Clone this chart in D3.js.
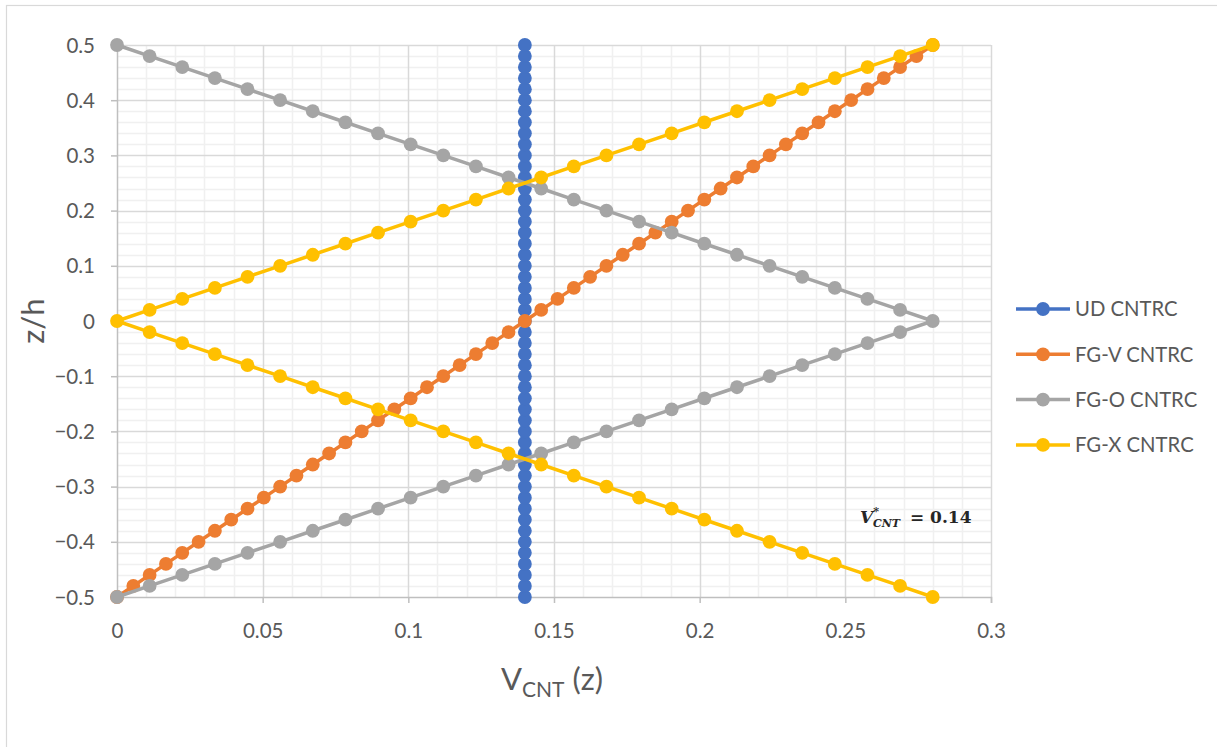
<!DOCTYPE html>
<html>
<head>
<meta charset="utf-8">
<script src="https://cdn.jsdelivr.net/npm/d3@7"></script>
<style>
  html, body { margin: 0; padding: 0; background: #fff; }
  svg { display: block; }
  .tick text { font-family: Lato, "Open Sans", sans-serif; }
</style>
</head>
<body>
<svg id="chart" width="1217" height="747"></svg>
<script>
// Through-thickness position z/h (shared by every series)
const zh = [-0.5, -0.48, -0.46, -0.44, -0.42, -0.4, -0.38, -0.36, -0.34, -0.32,
  -0.3, -0.28, -0.26, -0.24, -0.22, -0.2, -0.18, -0.16, -0.14, -0.12,
  -0.1, -0.08, -0.06, -0.04, -0.02, 0, 0.02, 0.04, 0.06, 0.08,
  0.1, 0.12, 0.14, 0.16, 0.18, 0.2, 0.22, 0.24, 0.26, 0.28,
  0.3, 0.32, 0.34, 0.36, 0.38, 0.4, 0.42, 0.44, 0.46, 0.48, 0.5];

// CNT volume fraction V_CNT(z) for each distribution
const udValues = [0.14, 0.14, 0.14, 0.14, 0.14, 0.14, 0.14, 0.14, 0.14, 0.14,
  0.14, 0.14, 0.14, 0.14, 0.14, 0.14, 0.14, 0.14, 0.14, 0.14,
  0.14, 0.14, 0.14, 0.14, 0.14, 0.14, 0.14, 0.14, 0.14, 0.14,
  0.14, 0.14, 0.14, 0.14, 0.14, 0.14, 0.14, 0.14, 0.14, 0.14,
  0.14, 0.14, 0.14, 0.14, 0.14, 0.14, 0.14, 0.14, 0.14, 0.14, 0.14];

const fgvValues = [0, 0.0056, 0.0112, 0.0168, 0.0224, 0.028, 0.0336, 0.0392, 0.0448, 0.0504,
  0.056, 0.0616, 0.0672, 0.0728, 0.0784, 0.084, 0.0896, 0.0952, 0.1008, 0.1064,
  0.112, 0.1176, 0.1232, 0.1288, 0.1344, 0.14, 0.1456, 0.1512, 0.1568, 0.1624,
  0.168, 0.1736, 0.1792, 0.1848, 0.1904, 0.196, 0.2016, 0.2072, 0.2128, 0.2184,
  0.224, 0.2296, 0.2352, 0.2408, 0.2464, 0.252, 0.2576, 0.2632, 0.2688, 0.2744, 0.28];

const fgoValues = [0, 0.0112, 0.0224, 0.0336, 0.0448, 0.056, 0.0672, 0.0784, 0.0896, 0.1008,
  0.112, 0.1232, 0.1344, 0.1456, 0.1568, 0.168, 0.1792, 0.1904, 0.2016, 0.2128,
  0.224, 0.2352, 0.2464, 0.2576, 0.2688, 0.28, 0.2688, 0.2576, 0.2464, 0.2352,
  0.224, 0.2128, 0.2016, 0.1904, 0.1792, 0.168, 0.1568, 0.1456, 0.1344, 0.1232,
  0.112, 0.1008, 0.0896, 0.0784, 0.0672, 0.056, 0.0448, 0.0336, 0.0224, 0.0112, 0];

const fgxValues = [0.28, 0.2688, 0.2576, 0.2464, 0.2352, 0.224, 0.2128, 0.2016, 0.1904, 0.1792,
  0.168, 0.1568, 0.1456, 0.1344, 0.1232, 0.112, 0.1008, 0.0896, 0.0784, 0.0672,
  0.056, 0.0448, 0.0336, 0.0224, 0.0112, 0, 0.0112, 0.0224, 0.0336, 0.0448,
  0.056, 0.0672, 0.0784, 0.0896, 0.1008, 0.112, 0.1232, 0.1344, 0.1456, 0.1568,
  0.168, 0.1792, 0.1904, 0.2016, 0.2128, 0.224, 0.2352, 0.2464, 0.2576, 0.2688, 0.28];

const seriesNames = ["UD CNTRC", "FG-V CNTRC", "FG-O CNTRC", "FG-X CNTRC"];
const seriesColors = ["#4472C4", "#ED7D31", "#A5A5A5", "#FFC000"];
const seriesValues = [udValues, fgvValues, fgoValues, fgxValues];

const xTicks = [0, 0.05, 0.1, 0.15, 0.2, 0.25, 0.3];
const yTicks = [-0.5, -0.4, -0.3, -0.2, -0.1, 0, 0.1, 0.2, 0.3, 0.4, 0.5];
const annotationValue = 0.14;

const svg = d3.select("#chart");
const W = 1217, H = 747;
const m = { left: 117, right: 226, top: 45, bottom: 150 };
const font = "Lato, 'Open Sans', sans-serif";

// outer chart frame (runs past the right and bottom edges)
svg.append("rect")
  .attr("x", 6.5).attr("y", 5.5)
  .attr("width", W + 10).attr("height", H + 10)
  .attr("fill", "#fff").attr("stroke", "#d9d9d9").attr("stroke-width", 1.2);

const x = d3.scaleLinear().domain([0, 0.3]).range([m.left, W - m.right]);
const y = d3.scaleLinear().domain([-0.5, 0.5]).range([H - m.bottom, m.top]);

const [x0, x1] = x.range();
const [y0, y1] = y.range();

// minor grid
const grid = svg.append("g");
grid.selectAll("line.vminor")
  .data(d3.range(1, 30).filter(i => i % 5 !== 0).map(i => i / 100))
  .join("line")
  .attr("x1", d => Math.round(x(d)) + 0.5).attr("x2", d => Math.round(x(d)) + 0.5)
  .attr("y1", y1).attr("y2", y0)
  .attr("stroke", "#f0f0f0").attr("stroke-width", 1.5);
grid.selectAll("line.hminor")
  .data(d3.range(-24, 25).filter(i => i % 5 !== 0).map(i => i / 50))
  .join("line")
  .attr("x1", x0).attr("x2", x1)
  .attr("y1", d => Math.round(y(d)) + 0.5).attr("y2", d => Math.round(y(d)) + 0.5)
  .attr("stroke", "#f0f0f0").attr("stroke-width", 1.5);
// major grid
grid.selectAll("line.vmajor")
  .data(xTicks.slice(1))
  .join("line")
  .attr("x1", d => Math.round(x(d)) + 0.5).attr("x2", d => Math.round(x(d)) + 0.5)
  .attr("y1", y1).attr("y2", y0)
  .attr("stroke", "#d9d9d9").attr("stroke-width", 1.5);
grid.selectAll("line.hmajor")
  .data(yTicks.slice(1))
  .join("line")
  .attr("x1", x0).attr("x2", x1)
  .attr("y1", d => Math.round(y(d)) + 0.5).attr("y2", d => Math.round(y(d)) + 0.5)
  .attr("stroke", "#d9d9d9").attr("stroke-width", 1.5);

// axes
const xAxis = d3.axisBottom(x).tickValues(xTicks).tickFormat(d3.format("~g")).tickSize(6).tickPadding(20);
const yAxis = d3.axisLeft(y).tickValues(yTicks).tickFormat(d3.format("~g")).tickSize(6).tickPadding(16);

const gx = svg.append("g").attr("transform", `translate(0,${y0})`).call(xAxis);
const gy = svg.append("g").attr("transform", `translate(${x0},0)`).call(yAxis);
[gx, gy].forEach(g => {
  g.select(".domain").attr("stroke", "#bfbfbf").attr("stroke-width", 1.5);
  g.selectAll(".tick line").attr("stroke", "#bfbfbf").attr("stroke-width", 1.5);
  g.selectAll(".tick text").attr("fill", "#595959").attr("font-size", 20.5);
});
gy.selectAll(".tick text").attr("dy", "0.35em");

// series: lines then markers, in legend order
const line = d3.line().x(d => x(d[0])).y(d => y(d[1]));
seriesValues.forEach((vals, i) => {
  const pts = vals.map((v, k) => [v, zh[k]]);
  const g = svg.append("g");
  g.append("path").datum(pts)
    .attr("d", line)
    .attr("fill", "none")
    .attr("stroke", seriesColors[i])
    .attr("stroke-width", 3.5)
    .attr("stroke-linejoin", "round");
  g.selectAll("circle").data(pts).join("circle")
    .attr("cx", d => x(d[0])).attr("cy", d => y(d[1]))
    .attr("r", 6.9)
    .attr("fill", seriesColors[i]);
});

// axis titles
svg.append("text")
  .attr("x", (x0 + x1) / 2 - 2).attr("y", 690)
  .attr("text-anchor", "middle")
  .attr("font-family", font)
  .attr("font-size", 31).attr("fill", "#595959")
  .call(t => {
    t.append("tspan").text("V");
    t.append("tspan").attr("font-size", 21).attr("dy", 7).text("CNT");
    t.append("tspan").attr("dy", -7).text(" (z)");
  });

svg.append("text")
  .attr("transform", `translate(44,${(y0 + y1) / 2}) rotate(-90)`)
  .attr("text-anchor", "middle")
  .attr("font-family", font)
  .attr("font-size", 31).attr("fill", "#595959")
  .text("z/h");

// legend
const legend = svg.append("g").attr("transform", "translate(1016,309)");
seriesNames.forEach((name, i) => {
  const row = legend.append("g").attr("transform", `translate(0,${i * 45.3})`);
  row.append("line").attr("x1", 0).attr("x2", 54).attr("y1", 0).attr("y2", 0)
    .attr("stroke", seriesColors[i]).attr("stroke-width", 3.5);
  row.append("circle").attr("cx", 27).attr("cy", 0).attr("r", 6.9).attr("fill", seriesColors[i]);
  row.append("text").attr("x", 59).attr("y", 0).attr("dy", "0.36em")
    .attr("font-family", font)
    .attr("font-size", 20.3).attr("fill", "#595959")
    .text(name);
});

// annotation of the uniform CNT fraction
const ann = svg.append("text")
  .attr("x", 860).attr("y", 523)
  .attr("font-family", "'DejaVu Serif', 'Liberation Serif', serif")
  .attr("font-size", 17).attr("font-weight", "bold").attr("fill", "#262626");
ann.append("tspan").attr("font-style", "italic").text("V");
ann.append("tspan").attr("font-style", "italic").attr("font-size", 11).attr("dy", -8).attr("dx", 0).text("*");
ann.append("tspan").attr("font-style", "italic").attr("font-size", 11).attr("dy", 12).attr("dx", -6).text("CNT");
ann.append("tspan").attr("dy", -4).attr("dx", 4).text(" = " + annotationValue);
</script>
</body>
</html>
